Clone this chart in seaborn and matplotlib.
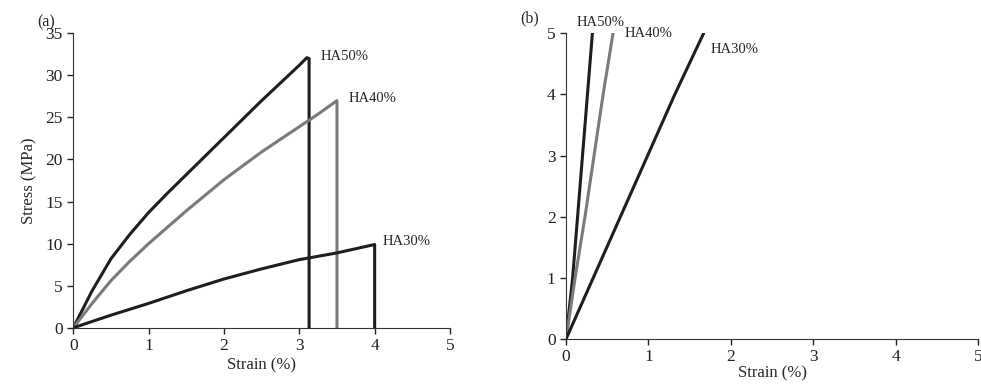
import numpy as np
import matplotlib
matplotlib.use("Agg")
import matplotlib.pyplot as plt
import pandas as pd
import seaborn as sns

# panel (a): full stress-strain curves
a_ha50_strain = [0, 0.25, 0.5, 0.75, 1.0, 1.25, 1.5, 1.75, 2.0, 2.25, 2.5, 2.75, 3.0, 3.1, 3.13, 3.13]
a_ha50_stress = [0, 4.4, 8.2, 11.1, 13.7, 16.0, 18.2, 20.4, 22.6, 24.8, 27.0, 29.1, 31.2, 32.1, 32.0, 0]
a_ha40_strain = [0, 0.25, 0.5, 0.75, 1.0, 1.5, 2.0, 2.5, 3.0, 3.25, 3.5, 3.5]
a_ha40_stress = [0, 2.9, 5.6, 7.9, 10.0, 13.9, 17.6, 20.9, 23.9, 25.4, 27.0, 0]
a_ha30_strain = [0, 0.5, 1.0, 1.5, 2.0, 2.5, 3.0, 3.5, 4.0, 4.0]
a_ha30_stress = [0, 1.5, 2.9, 4.4, 5.8, 7.0, 8.1, 8.9, 9.9, 0]

# panel (b): initial region
b_ha50_strain = [0, 0.08, 0.14, 0.2, 0.26, 0.32]
b_ha50_stress = [0, 1, 2, 3, 4, 5]
b_ha40_strain = [0, 0.11, 0.23, 0.34, 0.45, 0.57]
b_ha40_stress = [0, 1, 2, 3, 4, 5]
b_ha30_strain = [0, 0.33, 0.66, 0.99, 1.32, 1.67]
b_ha30_stress = [0, 1, 2, 3, 4, 5]

labels = ["HA50%", "HA40%", "HA30%"]
colors = {"HA50%": "#1e1e1e", "HA40%": "#7a7a7a", "HA30%": "#1e1e1e"}

def make_df(parts):
    rows = []
    for lab, xs, ys in parts:
        for i, (x, y) in enumerate(zip(xs, ys)):
            rows.append({"sample": lab, "strain": x, "stress": y, "order": i})
    return pd.DataFrame(rows)

df_a = make_df([("HA50%", a_ha50_strain, a_ha50_stress),
                ("HA40%", a_ha40_strain, a_ha40_stress),
                ("HA30%", a_ha30_strain, a_ha30_stress)])
df_b = make_df([("HA50%", b_ha50_strain, b_ha50_stress),
                ("HA40%", b_ha40_strain, b_ha40_stress),
                ("HA30%", b_ha30_strain, b_ha30_stress)])

sns.set_style("ticks")
plt.rcParams['font.family'] = ['Liberation Serif', 'DejaVu Serif']

fig = plt.figure(figsize=(9.81, 3.87), dpi=100)
ax1 = fig.add_axes([0.0747, 0.153, 0.384, 0.761])
ax2 = fig.add_axes([0.577, 0.124, 0.420, 0.790])

for ax, df in [(ax1, df_a), (ax2, df_b)]:
    for lab in labels:
        sub = df[df["sample"] == lab]
        sns.lineplot(data=sub, x="strain", y="stress", sort=False, ax=ax,
                     color=colors[lab], lw=2.2, estimator=None)
    for s in ["top", "right"]:
        ax.spines[s].set_visible(False)
    ax.spines["left"].set_color("#333333")
    ax.spines["bottom"].set_color("#333333")
    ax.tick_params(direction="out", length=4, width=1, labelsize=12.5,
                   colors="#222222")
    ax.set_xlim(0, 5)
    ax.set_xticks(range(0, 6))

ax1.set_ylim(0, 35)
ax1.set_yticks(range(0, 36, 5))
ax1.set_xlabel("Strain (%)", fontsize=12, labelpad=2)
ax1.set_ylabel("Stress (MPa)", fontsize=12, labelpad=6)

ax2.set_ylim(0, 5)
ax2.set_yticks(range(0, 6))
ax2.set_xlabel("Strain (%)", fontsize=12, labelpad=0)
ax2.set_ylabel("")

# curve labels
ax1.text(3.28, 32.2, "HA50%", fontsize=10.5, va="center")
ax1.text(3.65, 27.2, "HA40%", fontsize=10.5, va="center")
ax1.text(4.1, 10.3, "HA30%", fontsize=10.5, va="center")
ax2.text(0.13, 5.18, "HA50%", fontsize=10.5, va="center", clip_on=False)
ax2.text(0.71, 5.0, "HA40%", fontsize=10.5, va="center", clip_on=False)
ax2.text(1.76, 4.74, "HA30%", fontsize=10.5, va="center", clip_on=False)

fig.text(0.038, 0.943, "(a)", fontsize=11.5, va="center")
fig.text(0.530, 0.953, "(b)", fontsize=11.5, va="center")

fig.savefig("out.png", dpi=100)
